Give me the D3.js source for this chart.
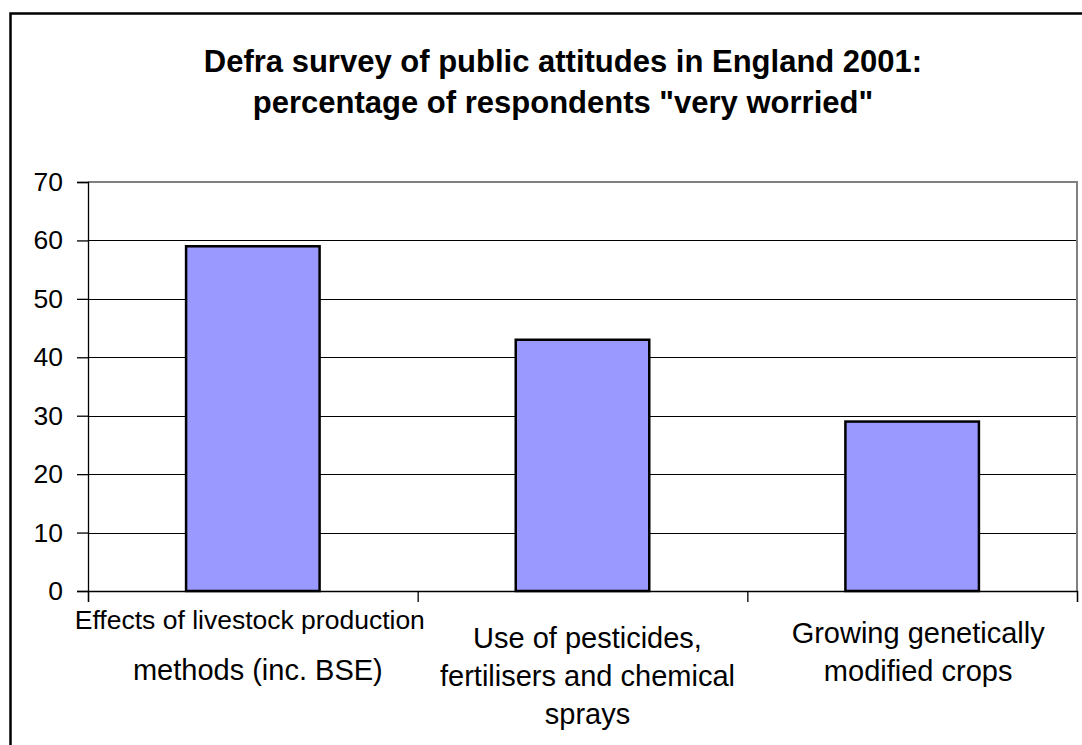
<!DOCTYPE html>
<html>
<head>
<meta charset="utf-8">
<script src="https://cdn.jsdelivr.net/npm/d3@7/dist/d3.min.js"></script>
<style>
  html, body { margin: 0; padding: 0; background: #fff; }
  svg { display: block; font-family: "Liberation Sans", Arial, sans-serif; }
</style>
</head>
<body>
<svg id="chart" width="1082" height="745"></svg>
<script>
const titleLines = ["Defra survey of public attitudes in England 2001:", "percentage of respondents \"very worried\""];
const categories = ["livestock", "pesticides", "gm"];
const categoryLabels = [
  ["Effects of livestock production", "methods (inc. BSE)"],
  ["Use of pesticides,", "fertilisers and chemical", "sprays"],
  ["Growing genetically", "modified crops"]
];
const values = [59, 43, 29];
const yTicks = [0, 10, 20, 30, 40, 50, 60, 70];

const svg = d3.select("#chart");
const W = 1082, H = 745;
const plot = { left: 88, right: 1077, top: 182, bottom: 591 };

// outer border (extends past right/bottom edges)
svg.append("rect").attr("x", 10.5).attr("y", 13.5).attr("width", W + 20).attr("height", H + 20)
  .attr("fill", "#fff").attr("stroke", "#000").attr("stroke-width", 2.5);

// title
const title = svg.append("text").attr("text-anchor", "middle")
  .attr("font-weight", "bold").attr("font-size", 31).attr("fill", "#000");
titleLines.forEach((t, i) => {
  title.append("tspan").attr("x", 563).attr("y", 72 + i * 41).text(t);
});

const x = d3.scaleBand().domain(categories).range([plot.left, plot.right]).paddingInner(0).paddingOuter(0);
const y = d3.scaleLinear().domain([0, 70]).range([plot.bottom, plot.top]);

// gridlines
svg.append("g").selectAll("line").data(yTicks.filter(d => d > 0 && d < 70)).join("line")
  .attr("x1", plot.left).attr("x2", plot.right)
  .attr("y1", d => Math.round(y(d)) + 0.5).attr("y2", d => Math.round(y(d)) + 0.5)
  .attr("stroke", "#000").attr("stroke-width", 1);

// plot border top/right (grey)
svg.append("path")
  .attr("d", `M${plot.left},${plot.top} H${plot.right} V${plot.bottom}`)
  .attr("fill", "none").attr("stroke", "#808080").attr("stroke-width", 2);

// bars
const barFrac = 0.405;
svg.append("g").selectAll("rect").data(values).join("rect")
  .attr("x", (d, i) => x(categories[i]) + x.bandwidth() * (1 - barFrac) / 2)
  .attr("width", x.bandwidth() * barFrac)
  .attr("y", d => y(d))
  .attr("height", d => y(0) - y(d))
  .attr("fill", "#9999FF").attr("stroke", "#000").attr("stroke-width", 2.5);

// y axis
const yAxis = d3.axisLeft(y).tickValues(yTicks).tickSize(11).tickPadding(14);
const yg = svg.append("g").attr("transform", `translate(${plot.left},0)`).call(yAxis);
yg.select(".domain").attr("stroke", "#000").attr("stroke-width", 1.3);
yg.selectAll(".tick line").attr("stroke", "#000").attr("stroke-width", 1.3);
yg.selectAll(".tick text").attr("font-size", 26.5).attr("fill", "#000")
  .attr("font-family", "Liberation Sans, Arial, sans-serif");

// x axis
const xAxisScale = d3.scaleLinear().domain([0, 3]).range([plot.left, plot.right]);
const xg = svg.append("g").attr("transform", `translate(0,${plot.bottom})`)
  .call(d3.axisBottom(xAxisScale).tickValues([0, 1, 2, 3]).tickSize(11).tickFormat(""));
xg.select(".domain").attr("stroke", "#000").attr("stroke-width", 1.3);
xg.selectAll(".tick line").attr("stroke", "#000").attr("stroke-width", 1.3);

// category labels
const labelPos = [
  { dx: [-3, 5], baselines: [629, 680], sizes: [26.5, 29] },
  { dx: [5, 5, 5], baselines: [648, 686, 724], sizes: [29, 29, 29] },
  { dx: [6, 6], baselines: [643, 681], sizes: [29, 29] }
];
categoryLabels.forEach((lines, i) => {
  const cx = x(categories[i]) + x.bandwidth() / 2;
  lines.forEach((t, j) => {
    svg.append("text").attr("text-anchor", "middle")
      .attr("x", cx + labelPos[i].dx[j]).attr("y", labelPos[i].baselines[j])
      .attr("font-size", labelPos[i].sizes[j]).attr("fill", "#000").text(t);
  });
});
</script>
</body>
</html>
